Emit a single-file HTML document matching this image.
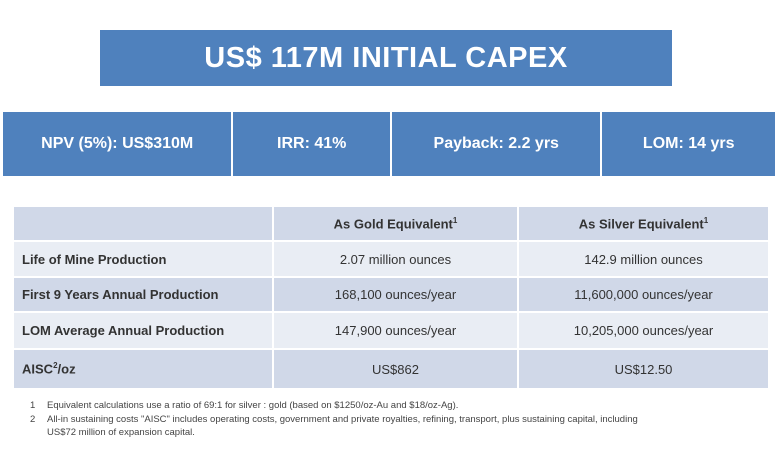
<!DOCTYPE html>
<html><head><meta charset="utf-8"><style>
body{margin:0;width:775px;height:468px;background:#fff;font-family:"Liberation Sans",sans-serif;position:relative;overflow:hidden}
.abs{position:absolute}
#title{left:100px;top:30px;width:572px;height:56px;background:#4f81bd;color:#fff;font-weight:bold;font-size:29px;display:flex;align-items:center;justify-content:center;letter-spacing:0.5px}
#metrics{left:3px;top:112px;width:772px;height:64px;background:#4f81bd;display:flex}
#metrics div{color:#fff;font-weight:bold;font-size:16px;display:flex;align-items:center;justify-content:center;border-right:2px solid #fff;height:100%}
#metrics div:last-child{border-right:none}
table{position:absolute;left:12px;top:205px;width:758px;border-collapse:collapse;font-size:13px;color:#333;table-layout:fixed}
td{border:2px solid #fff;padding:0 8px}
td.c{text-align:center}
tr.d td{background:#d0d8e8}
tr.l td{background:#e9edf4}
.b{font-weight:bold}
sup{font-size:8px}
#notes{left:30px;top:399px;font-size:9.5px;color:#444;line-height:13.5px;width:740px}
#notes span{display:inline-block;width:17px}
</style></head><body>
<div id="title" class="abs">US$ 117M INITIAL CAPEX</div>
<div id="metrics" class="abs">
<div style="width:229px">NPV (5%): US$310M</div>
<div style="width:157px">IRR: 41%</div>
<div style="width:209px">Payback: 2.2 yrs</div>
<div style="width:173px">LOM: 14 yrs</div>
</div>
<table>
<colgroup><col style="width:260px"><col style="width:245px"><col></colgroup>
<tr class="d" style="height:35px"><td></td><td class="c b">As Gold Equivalent<sup>1</sup></td><td class="c b">As Silver Equivalent<sup>1</sup></td></tr>
<tr class="l" style="height:36px"><td class="b">Life of Mine Production</td><td class="c">2.07 million ounces</td><td class="c">142.9 million ounces</td></tr>
<tr class="d" style="height:35px"><td class="b">First 9 Years Annual Production</td><td class="c">168,100 ounces/year</td><td class="c">11,600,000 ounces/year</td></tr>
<tr class="l" style="height:37px"><td class="b">LOM Average Annual Production</td><td class="c">147,900 ounces/year</td><td class="c">10,205,000 ounces/year</td></tr>
<tr class="d" style="height:40px"><td class="b">AISC<sup>2</sup>/oz</td><td class="c">US$862</td><td class="c">US$12.50</td></tr>
</table>
<div id="notes" class="abs">
<div><span>1</span>Equivalent calculations use a ratio of 69:1 for silver : gold (based on $1250/oz-Au and $18/oz-Ag).</div>
<div><span>2</span>All-in sustaining costs "AISC" includes operating costs, government and private royalties, refining, transport, plus sustaining capital, including<br><span></span>US$72 million of expansion capital.</div>
</div>
</body></html>
